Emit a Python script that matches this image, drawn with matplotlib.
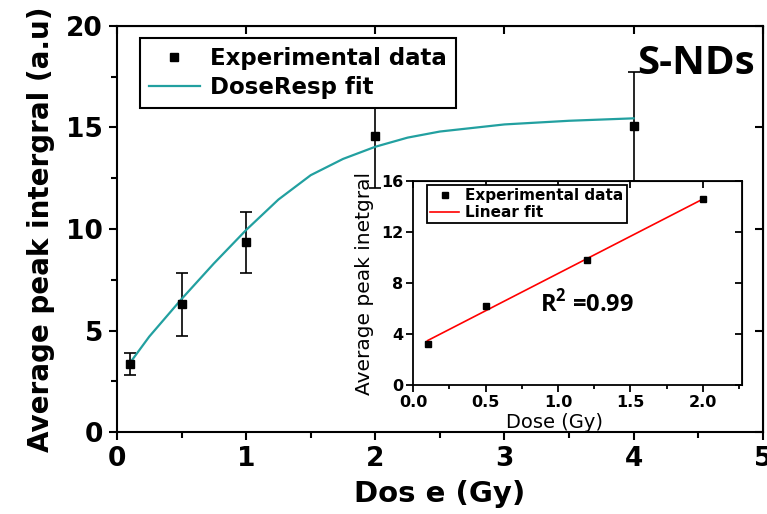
import numpy as np
import matplotlib.pyplot as plt

# superscript in the R^2 label drawn with the same family as the text
plt.rcParams['mathtext.fontset'] = 'custom'
plt.rcParams['mathtext.bf'] = 'Open Sans:bold'
plt.rcParams['mathtext.rm'] = 'Open Sans'

# main panel: averaged peak integral vs dose, with error bars
dose = [0.1, 0.5, 1.0, 2.0, 4.0]
peak = [3.35, 6.3, 9.35, 14.6, 15.05]
peak_err = [0.55, 1.55, 1.5, 2.6, 2.7]

# DoseResp fit curve, sampled
fit_x = [0.1, 0.25, 0.5, 0.75, 1.0, 1.25, 1.5, 1.75, 2.0, 2.25, 2.5, 3.0, 3.5, 4.0]
fit_y = [3.4, 4.7, 6.55, 8.3, 9.95, 11.45, 12.65, 13.45, 14.05, 14.5, 14.8, 15.15, 15.33, 15.45]

# inset: linear range
ins_x = [0.1, 0.5, 1.2, 2.0]
ins_y = [3.25, 6.25, 9.8, 14.6]
lin_x = [0.1, 2.0]
lin_y = [3.5, 14.6]

teal = '#22a0a0'

fig = plt.figure(figsize=(7.67, 5.14), dpi=100)
ax = fig.add_axes([0.1525, 0.1595, 0.842, 0.79])

ax.errorbar(dose, peak, yerr=peak_err, fmt='none', ecolor='black', elinewidth=1.2,
            capsize=4, capthick=1.2, zorder=2)
fit_line, = ax.plot(fit_x, fit_y, color=teal, lw=1.6, zorder=3)
pts, = ax.plot(dose, peak, 's', color='black', ms=5.5, zorder=4)

ax.set_xlim(0, 5)
ax.set_ylim(0, 20)
ax.set_xticks(np.arange(0, 6, 1))
ax.set_xticks(np.arange(0, 5.01, 0.5), minor=True)
ax.set_yticks(np.arange(0, 21, 5))
ax.set_yticks(np.arange(0, 20.1, 2.5), minor=True)
for s in ax.spines.values():
    s.set_linewidth(1.5)
ax.tick_params(which='both', direction='out', width=1.5, top=False, right=False)
ax.tick_params(which='major', length=6, labelsize=19, pad=4)
ax.tick_params(which='minor', length=4)
for lab in ax.get_xticklabels() + ax.get_yticklabels():
    lab.set_fontweight('bold')

# inward ticks on top and right
sec_x = ax.secondary_xaxis('top')
sec_x.set_xticks(np.arange(0, 6, 1))
sec_x.tick_params(direction='in', length=6, width=1.5, labeltop=False)
sec_y = ax.secondary_yaxis('right')
sec_y.set_yticks(np.arange(0, 21, 5))
sec_y.tick_params(direction='in', length=6, width=1.5, labelright=False)

ax.set_xlabel('Dos e (Gy)', fontsize=21, fontweight='bold', labelpad=6)
ax.set_ylabel('Average peak intergral (a.u)', fontsize=20, fontweight='bold', labelpad=8)

leg = ax.legend([pts, fit_line], ['Experimental data', 'DoseResp fit'],
                loc='upper left', bbox_to_anchor=(0.0356, 0.97), borderaxespad=0,
                prop={'size': 16.5, 'weight': 'bold'}, numpoints=1, handlelength=2.2,
                handletextpad=0.45, labelspacing=0.25, borderpad=0.4,
                fancybox=False, framealpha=1, edgecolor='black')
leg.get_frame().set_linewidth(1.5)

ax.text(0.988, 0.955, 'S-NDs', transform=ax.transAxes, ha='right', va='top',
        fontsize=29, fontweight='bold', family='Open Sans')

# inset
ins = fig.add_axes([0.5385, 0.2505, 0.429, 0.397])
ins.plot(lin_x, lin_y, color='red', lw=1.2, zorder=2, label='Linear fit')
ins.plot(ins_x, ins_y, 's', color='black', ms=5, zorder=3, label='Experimental data')
ins.set_xlim(0, 2.27)
ins.set_ylim(0, 16)
ins.set_xticks(np.arange(0, 2.01, 0.5))
ins.set_xticks(np.arange(0, 2.26, 0.25), minor=True)
ins.set_yticks(np.arange(0, 17, 4))
for s in ins.spines.values():
    s.set_linewidth(1.3)
ins.tick_params(which='both', direction='out', width=1.3, top=False, right=False)
ins.tick_params(which='major', length=5, labelsize=11.5, pad=2)
ins.tick_params(which='minor', length=3)
for lab in ins.get_xticklabels() + ins.get_yticklabels():
    lab.set_fontweight('bold')
ins_sx = ins.secondary_xaxis('top')
ins_sx.set_xticks(np.arange(0, 2.01, 0.5))
ins_sx.tick_params(direction='in', length=5, width=1.3, labeltop=False)
ins_sy = ins.secondary_yaxis('right')
ins_sy.set_yticks(np.arange(0, 17, 4))
ins_sy.tick_params(direction='in', length=5, width=1.3, labelright=False)

ins.set_ylabel('Average peak inetgral', fontsize=14.5, labelpad=5)
xl = ins.set_xlabel('Dose (Gy)', fontsize=14)
ins.xaxis.set_label_coords(0.43, -0.135)
xl.set_clip_box(ax.bbox)
xl.set_clip_on(True)

h, l = ins.get_legend_handles_labels()
ileg = ins.legend([h[1], h[0]], [l[1], l[0]], loc='upper left',
                  bbox_to_anchor=(0.043, 0.98), borderaxespad=0,
                  prop={'size': 11, 'weight': 'bold'}, numpoints=1, handlelength=1.9,
                  handletextpad=0.4, labelspacing=0.1, borderpad=0.2,
                  fancybox=False, framealpha=1, edgecolor='black')
ileg.get_frame().set_linewidth(1.3)

ins.text(0.53, 0.4, 'R$^{\\mathbf{2}}$ =0.99', transform=ins.transAxes, ha='center',
         va='center', fontsize=17, fontweight='bold', family='Open Sans')

fig.savefig('out.png', dpi=100)
